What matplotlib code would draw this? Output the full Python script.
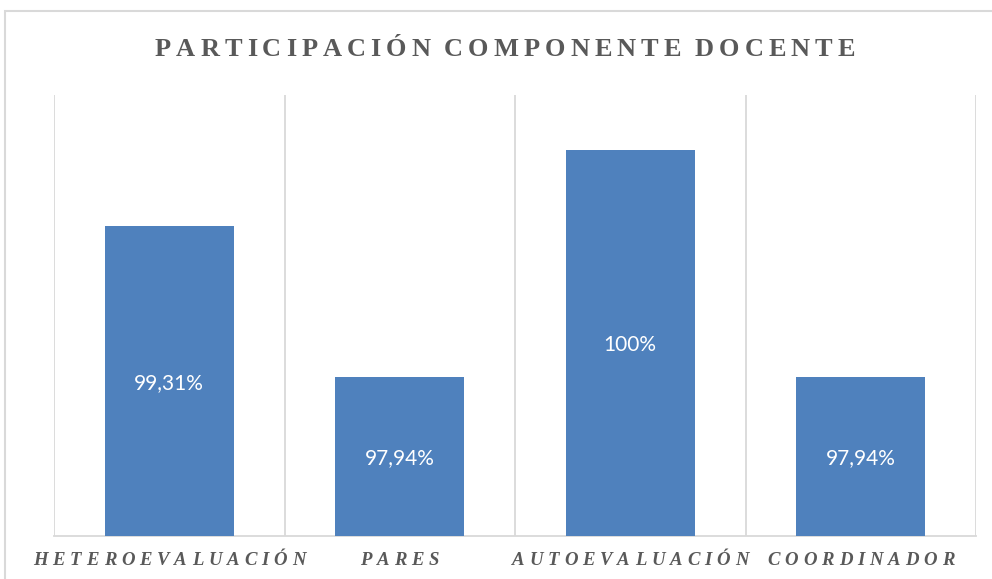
import matplotlib
matplotlib.use('Agg')
import matplotlib.pyplot as plt
from matplotlib.patches import Rectangle
import numpy as np

# data
categorias = ['HETEROEVALUACIÓN', 'PARES', 'AUTOEVALUACIÓN', 'COORDINADOR']
valores = [99.31, 97.94, 100.0, 97.94]
etiquetas = ['99,31%', '97,94%', '100%', '97,94%']
titulo = 'PARTICIPACIÓN COMPONENTE DOCENTE'

W, H = 992, 579
azul = '#4F81BD'
gris = '#595959'
linea = '#D9D9D9'

fig = plt.figure(figsize=(W / 100, H / 100), dpi=100)
fig.patch.set_facecolor('white')

# outer chart border (cut by the image edge on the right and bottom)
borde = Rectangle((4.5 / W, -0.05), 1.1, 1 - 10.5 / H + 0.05, transform=fig.transFigure,
                  fill=False, edgecolor=linea, linewidth=1.5)
fig.patches.append(borde)

ax = fig.add_axes([54 / W, 1 - 536 / H, (976 - 54) / W, (536 - 94.5) / H])
x = np.arange(len(categorias))
ax.bar(x, valores, width=0.56, color=azul, zorder=3)
ax.set_ylim(96.5, 100.5)
ax.set_xlim(-0.5, len(categorias) - 0.5)

# vertical gridlines between categories
ax.set_xticks(np.arange(-0.5, len(categorias), 1), minor=True)
ax.set_xticks([])
ax.set_yticks([])
ax.grid(axis='x', which='minor', color=linea, linewidth=1.3, zorder=0)
ax.tick_params(which='both', length=0)
for lado in ['top', 'left', 'right']:
    ax.spines[lado].set_visible(False)
ax.spines['bottom'].set_color(linea)
ax.spines['bottom'].set_linewidth(1.3)

# data labels in the middle of each bar
ymin = ax.get_ylim()[0]
for xi, v, et in zip(x, valores, etiquetas):
    ax.text(xi, (ymin + v) / 2, et, ha='center', va='center_baseline', color='white',
            fontsize=15, family='Lato', zorder=4)

renderer = fig.canvas.get_renderer()


def texto_espaciado(s, cx, base_y, size, gap, style='normal'):
    # draw letter-spaced text centred on cx (pixels), baseline at base_y (pixels from top)
    anchos = []
    for ch in s:
        if ch == ' ':
            anchos.append(size * 100 / 72 * 0.15)
        else:
            t = fig.text(0, 0, ch, fontsize=size, family='Liberation Serif',
                         weight='bold', style=style)
            anchos.append(t.get_window_extent(renderer).width)
            t.remove()
    total = sum(anchos) + gap * (len(s) - 1)
    pos = cx - total / 2
    for ch, w in zip(s, anchos):
        if ch != ' ':
            fig.text(pos / W, 1 - base_y / H, ch, fontsize=size, family='Liberation Serif',
                     weight='bold', style=style, color=gris, va='baseline', ha='left')
        pos += w + gap


texto_espaciado(titulo, 505, 55.7, 19, 5.0)

# category labels under the axis
x0, x1 = 54, 976
paso = (x1 - x0) / len(categorias)
for i, cat in enumerate(categorias):
    texto_espaciado(cat, x0 + paso * (i + 0.5), 565, 13.5, 4.9, style='italic')

fig.savefig('out.png', dpi=100)
